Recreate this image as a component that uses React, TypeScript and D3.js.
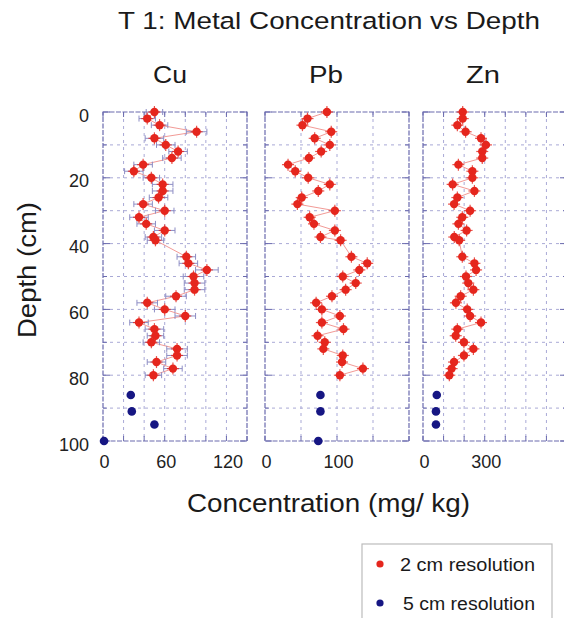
import React from "react";
import * as d3 from "d3";

// ---- data ----
const depths2 = [0, 2, 4, 6, 8, 10, 12, 14, 16, 18, 20, 22, 24, 26, 28, 30, 32, 34, 36, 38, 39, 44, 46, 48, 50, 52, 54, 56, 58, 60, 62, 64, 66, 68, 70, 72, 74, 76, 78, 80];
const cu2 = [50, 43, 55, 91, 50, 61, 73, 67, 39, 30, 47, 58, 58, 54, 39, 60, 35, 42, 60, 49, 51, 81, 83, 101, 88, 89, 89, 71, 43, 60, 80, 35, 50, 51, 47, 72, 72, 52, 68, 49];
const cuErr = [8, 8, 8, 10, 9, 9, 9, 9, 9, 9, 8, 10, 10, 9, 9, 9, 9, 9, 10, 8, 8, 9, 9, 11, 10, 10, 10, 10, 10, 10, 10, 9, 9, 8, 8, 10, 10, 9, 9, 8];
const pb2 = [86, 59, 52, 92, 69, 90, 78, 61, 32, 42, 60, 90, 74, 51, 45, 97, 62, 68, 97, 77, 105, 120, 142, 131, 108, 126, 112, 93, 71, 79, 104, 79, 109, 73, 83, 81, 108, 107, 136, 104];
const zn2 = [193, 193, 167, 207, 282, 306, 288, 288, 172, 240, 240, 144, 250, 167, 151, 229, 191, 172, 212, 152, 176, 191, 250, 258, 209, 220, 245, 183, 160, 215, 229, 282, 167, 159, 199, 245, 199, 151, 139, 128];

const depths5 = [86, 91, 95, 100];
const cu5 = [27, 28, 50, 1];
const pb5 = [77, 77, null, 74];
const zn5 = [67, 63, 63, null];

const metals = ["Cu", "Pb", "Zn"];
const depthTicks = [0, 20, 40, 60, 80, 100];
const cuTicks = [0, 60, 120];
const pbTicks = [0, 100];
const znTicks = [0, 300];

const W = 564;
const H = 618;
const FONT = "'Liberation Sans', Arial, Helvetica, sans-serif";
const FRAME = "#6a6aae";
const GRID = "#a9a9d6";
const RED = "#e5261d";
const NAVY = "#161683";

const y = d3.scaleLinear().domain([0, 100]).range([112, 441]);
const yGrid = d3.range(0, 101, 10);

type Panel = {
  name: string;
  headerX: number;
  x: d3.ScaleLinear<number, number>;
  gridStep: number;
  ticks: number[];
  v2: number[];
  v5: (number | null)[];
  err?: number[];
};

const panels: Panel[] = [
  { name: metals[0], headerX: 170, x: d3.scaleLinear().domain([0, 140]).range([103, 247]), gridStep: 20, ticks: cuTicks, v2: cu2, v5: cu5, err: cuErr },
  { name: metals[1], headerX: 326, x: d3.scaleLinear().domain([0, 200]).range([265, 409]), gridStep: 50, ticks: pbTicks, v2: pb2, v5: pb5 },
  { name: metals[2], headerX: 483, x: d3.scaleLinear().domain([0, 700]).range([423, 567]), gridStep: 100, ticks: znTicks, v2: zn2, v5: zn5 },
];

function PanelView({ p }: { p: Panel }) {
  const [x0, x1] = p.x.range();
  const dom = p.x.domain();
  const xGrid = d3.range(dom[0], dom[1] + 0.001, p.gridStep);
  const y0 = y(0);
  const y1 = y(100);
  const pts = depths2.map((d, i) => [p.x(p.v2[i]), y(d)] as [number, number]);
  const line = d3.line()(pts) || "";
  return (
    <g>
      {/* grid */}
      {xGrid.slice(1, -1).map((g) => (
        <line key={"vx" + g} x1={p.x(g)} x2={p.x(g)} y1={y0} y2={y1} stroke={GRID} strokeWidth={1} strokeDasharray="3,4" />
      ))}
      {yGrid.slice(1, -1).map((g) => (
        <line key={"hy" + g} x1={x0} x2={x1} y1={y(g)} y2={y(g)} stroke={GRID} strokeWidth={1} strokeDasharray="3,4" />
      ))}
      {/* frame */}
      <rect x={x0} y={y0} width={x1 - x0} height={y1 - y0} fill="none" stroke={FRAME} strokeWidth={1.2} strokeDasharray="5,1.5" />
      {/* inward ticks */}
      {xGrid.map((g) => (
        <g key={"tx" + g}>
          <line x1={p.x(g)} x2={p.x(g)} y1={y0} y2={y0 + 5} stroke={FRAME} strokeWidth={1} />
          <line x1={p.x(g)} x2={p.x(g)} y1={y1} y2={y1 - 5} stroke={FRAME} strokeWidth={1} />
        </g>
      ))}
      {yGrid.map((g) => (
        <g key={"ty" + g}>
          <line x1={x0} x2={x0 + (g % 20 === 0 ? 7 : 4)} y1={y(g)} y2={y(g)} stroke={FRAME} strokeWidth={1} />
          <line x1={x1} x2={x1 - (g % 20 === 0 ? 7 : 4)} y1={y(g)} y2={y(g)} stroke={FRAME} strokeWidth={1} />
        </g>
      ))}
      {/* connecting line */}
      <path d={line} fill="none" stroke="#f29a96" strokeWidth={1} />
      {/* error bars */}
      {p.err &&
        depths2.map((d, i) => {
          const xa = p.x(p.v2[i] - p.err![i]);
          const xb = p.x(p.v2[i] + p.err![i]);
          const yy = y(d);
          return (
            <g key={"e" + i} stroke="#8d8dc4" strokeWidth={1}>
              <line x1={xa} x2={xb} y1={yy} y2={yy} />
              <line x1={xa} x2={xa} y1={yy - 3} y2={yy + 3} />
              <line x1={xb} x2={xb} y1={yy - 3} y2={yy + 3} />
            </g>
          );
        })}
      {/* red markers */}
      {depths2.map((d, i) => {
        const cx = p.x(p.v2[i]);
        const cy = y(d);
        return (
          <g key={"r" + i}>
            <line x1={cx - 6} x2={cx + 6} y1={cy} y2={cy} stroke={RED} strokeWidth={1.2} opacity={0.8} />
            <line x1={cx} x2={cx} y1={cy - 6} y2={cy + 6} stroke={RED} strokeWidth={1.2} opacity={0.8} />
            <circle cx={cx} cy={cy} r={4.2} fill={RED} />
          </g>
        );
      })}
      {/* blue markers */}
      {depths5.map((d, i) =>
        p.v5[i] == null ? null : <circle key={"b" + i} cx={p.x(p.v5[i] as number)} cy={y(d)} r={4.3} fill={NAVY} />
      )}
      {/* x tick labels */}
      {p.ticks.map((t) => (
        <text key={"xl" + t} x={p.x(t) + 1.5} y={468} textAnchor="middle" fontSize={18} fill="#222" fontFamily={FONT}>
          {t}
        </text>
      ))}
      {/* header */}
      <text x={p.headerX} y={83} textAnchor="middle" fontSize={23} fill="#1a1a1a" fontFamily={FONT} textLength={34} lengthAdjust="spacingAndGlyphs">
        {p.name}
      </text>
    </g>
  );
}

export default function App() {
  return (
    <div style={{ position: "absolute", left: 0, top: 0 }}>
      <svg width={W} height={H} viewBox={`0 0 ${W} ${H}`} style={{ display: "block", background: "#fff" }}>
        <rect width={W} height={H} fill="#fff" />
        <text x={118} y={29} fontSize={24.5} fill="#1a1a1a" fontFamily={FONT} textLength={422} lengthAdjust="spacingAndGlyphs">
          T 1: Metal Concentration vs Depth
        </text>
        {panels.map((p) => (
          <PanelView key={p.name} p={p} />
        ))}
        {/* y tick labels */}
        {depthTicks.map((t) => (
          <text key={"yl" + t} x={89} y={y(t) + 9.5} textAnchor="end" fontSize={18} fill="#222" fontFamily={FONT}>
            {t}
          </text>
        ))}
        <text
          transform={`translate(36,270) rotate(-90)`}
          textAnchor="middle"
          fontSize={25}
          fill="#1a1a1a"
          fontFamily={FONT}
          textLength={136}
          lengthAdjust="spacingAndGlyphs"
        >
          Depth (cm)
        </text>
        <text x={187} y={512} fontSize={25} fill="#1a1a1a" fontFamily={FONT} textLength={283} lengthAdjust="spacingAndGlyphs">
          Concentration (mg/ kg)
        </text>
        {/* legend */}
        <rect x={362} y={544} width={190} height={76} fill="#fff" stroke="#bcbcbc" strokeWidth={1.2} />
        <circle cx={380} cy={564} r={3.6} fill={RED} />
        <circle cx={380} cy={603} r={3.6} fill={NAVY} />
        <text x={400} y={571} fontSize={17.5} fill="#1a1a1a" fontFamily={FONT} textLength={135} lengthAdjust="spacingAndGlyphs">
          2 cm resolution
        </text>
        <text x={403} y={610} fontSize={17.5} fill="#1a1a1a" fontFamily={FONT} textLength={132} lengthAdjust="spacingAndGlyphs">
          5 cm resolution
        </text>
      </svg>
    </div>
  );
}
